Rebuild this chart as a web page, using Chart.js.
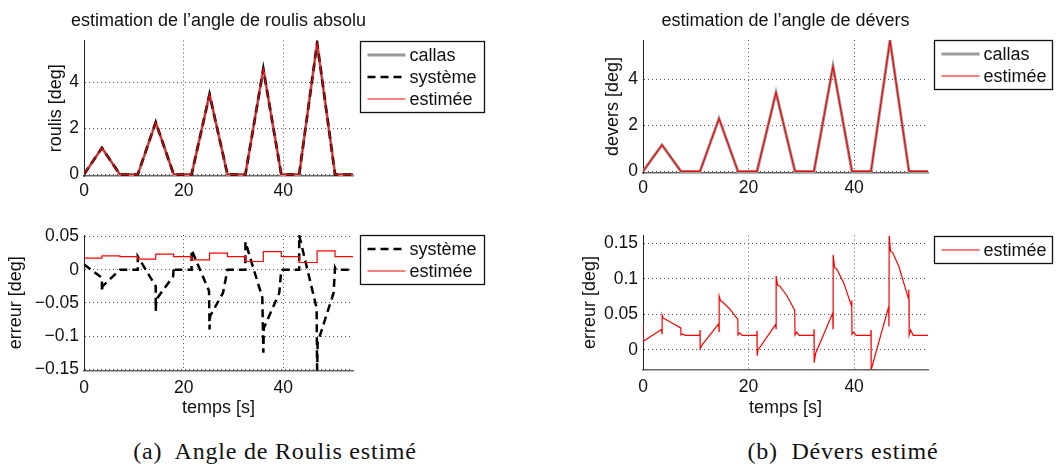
<!DOCTYPE html>
<html>
<head>
<meta charset="utf-8">
<script src="https://cdn.jsdelivr.net/npm/chart.js@4.4.1/dist/chart.umd.min.js"></script>
<style>
  body { margin: 0; background: #fff; width: 1061px; height: 468px; position: relative; overflow: hidden; }
  canvas { position: absolute; }
  .caption { position: absolute; top: 436px; width: 400px; text-align: center; font: 24px "Liberation Serif", serif; letter-spacing: 0.8px; color: #111; line-height: 30px; }
</style>
</head>
<body>
<canvas id="roulisChart" width="530" height="215" style="left:0;top:0"></canvas>
<canvas id="deversChart" width="531" height="215" style="left:530px;top:0"></canvas>
<canvas id="roulisErrChart" width="530" height="205" style="left:0;top:215px"></canvas>
<canvas id="deversErrChart" width="531" height="205" style="left:530px;top:215px"></canvas>
<div class="caption" style="left:75px">(a)&nbsp; Angle de Roulis estimé</div>
<div class="caption" style="left:643px">(b)&nbsp; Dévers estimé</div>
<script>
// temps des sommets / retours à zéro des profils triangulaires [s]
const cycleTimes = [0, 3.6, 7.2, 10.8, 14.4, 18, 21.6, 25.2, 28.8, 32.4, 36, 39.6, 43.2, 46.8, 50.4, 54];
const roulisCallas  = [0, 1.15, 0, 0, 2.26, 0, 0, 3.47, 0, 0, 4.57, 0, 0, 5.69, 0, 0];
const roulisSysteme = [0, 1.15, 0, 0, 2.26, 0, 0, 3.47, 0, 0, 4.57, 0, 0, 5.69, 0, 0];
const roulisEstimee = [0, 1.15, 0, 0, 2.26, 0, 0, 3.47, 0, 0, 4.57, 0, 0, 5.69, 0, 0];
const deversCallas  = [0, 1.15, 0, 0, 2.3, 0, 0, 3.43, 0, 0, 4.57, 0, 0, 5.7, 0, 0];
const deversEstimee = [0, 1.15, 0, 0, 2.3, 0, 0, 3.43, 0, 0, 4.57, 0, 0, 5.7, 0, 0];

// erreur roulis - système
const errSystemeT = [0, 3.6, 3.6, 3.7, 7.2, 10.8, 10.8, 14.4, 14.4, 14.5, 17.9, 18.0, 18.2, 21.6, 21.6, 25.1, 25.2, 25.3, 27.9, 28.8,
                     32.4, 32.4, 35.8, 36.0, 36.1, 39.2, 39.6, 43.2, 43.2, 46.7, 46.8, 46.9, 50.1, 50.4, 50.6, 54];
const errSystemeV = [0.008, -0.012, -0.033, -0.025, 0, 0, 0.02, -0.025, -0.062, -0.045, -0.01, 0.004, 0, 0, 0.03, -0.032, -0.09, -0.07, -0.035, 0,
                     0, 0.042, -0.042, -0.125, -0.088, -0.035, 0, 0, 0.052, -0.058, -0.16, -0.11, -0.035, 0.003, 0, 0];

// erreur roulis - estimée (paliers)
const errRoulisEstT = [0, 3.6, 7.2, 10.8, 14.4, 18, 21.6, 25.2, 28.8, 32.4, 36, 39.6, 43.2, 46.8, 50.4, 54];
const errRoulisEstV = [0.0175, 0.021, 0.02, 0.016, 0.0235, 0.02, 0.015, 0.025, 0.02, 0.0125, 0.0275, 0.02, 0.011, 0.0285, 0.02, 0.02];

// erreur dévers - estimée
const errDeversT = [0, 0.02, 3.55, 3.6, 3.63, 3.8, 7.15, 7.2, 7.5, 8.0, 10.78,
                    10.8, 10.83, 11.1, 14.35, 14.4, 14.43, 14.7, 15.0, 16.4, 17.95, 18.0, 18.3, 18.8, 21.58,
                    21.6, 21.63, 21.8, 25.15, 25.2, 25.23, 25.5, 25.9, 27.2, 28.75, 28.8, 29.1, 29.6, 32.38,
                    32.4, 32.43, 32.7, 35.95, 36.0, 36.03, 36.3, 36.7, 38.0, 39.5, 39.55, 39.6, 39.9, 40.4, 43.18,
                    43.2, 43.23, 43.6, 46.55, 46.6, 46.65, 46.9, 47.3, 48.5, 50.3, 50.35, 50.4, 50.43, 50.7, 51.2, 54];
const errDeversV = [0.038, 0.012, 0.029, 0.023, 0.049, 0.045, 0.031, 0.021, 0.0225, 0.0205, 0.0205,
                    0.028, 0.002, 0.006, 0.037, 0.026, 0.076, 0.069, 0.068, 0.058, 0.043, 0.021, 0.024, 0.0205, 0.0205,
                    0.027, -0.008, 0.0, 0.036, 0.03, 0.104, 0.091, 0.09, 0.077, 0.056, 0.021, 0.025, 0.0205, 0.0205,
                    0.029, -0.018, -0.005, 0.052, 0.03, 0.134, 0.116, 0.114, 0.095, 0.062, 0.07, 0.022, 0.025, 0.0205, 0.0205,
                    0.028, -0.028, -0.018, 0.061, 0.033, 0.161, 0.139, 0.137, 0.117, 0.072, 0.085, 0.07, 0.021, 0.028, 0.0205, 0.0205];

const timeTicks = [0, 20, 40];
const angleTicks = [0, 2, 4];
const errRoulisTicks = [0.05, 0, -0.05, -0.1, -0.15];
const errDeversTicks = [0, 0.05, 0.1, 0.15];

const FONT = '"Liberation Sans", Arial, sans-serif';
const labelFont = { family: FONT, size: 18 };
const tickFont = { family: FONT, size: 17.5 };

const toXY = (ts, vs) => ts.map((t, i) => ({ x: t, y: vs[i] }));
const fmt = v => String(v).replace('-', '\u2212');

// titre centré sur la zone de tracé, sans compression de la largeur
const plotTitle = {
    id: 'plotTitle',
    afterDraw(chart, args, opts) {
        if (!opts.text) return;
        const { ctx, chartArea } = chart;
        ctx.save();
        ctx.font = '18px ' + FONT;
        ctx.fillStyle = '#111';
        ctx.textAlign = 'center';
        ctx.textBaseline = 'middle';
        ctx.fillText(opts.text, (chartArea.left + chartArea.right) / 2, opts.y);
        ctx.restore();
    }
};

// légende encadrée façon Matlab
const legendBox = {
    id: 'legendBox',
    afterDraw(chart, args, opts) {
        const { ctx, chartArea } = chart;
        const sets = chart.data.datasets;
        const x = Math.round(chartArea.right + opts.gap) + 0.5;
        const y = Math.round(chartArea.top) + 0.5;
        const h = sets.length * 22 + 5;
        ctx.save();
        ctx.strokeStyle = '#111';
        ctx.lineWidth = 1.3;
        ctx.strokeRect(x, y, opts.width, h);
        ctx.font = '18px ' + FONT;
        ctx.textBaseline = 'middle';
        ctx.fillStyle = '#111';
        sets.forEach((ds, i) => {
            const cy = y + 13.5 + i * 22;
            ctx.beginPath();
            ctx.setLineDash(ds.borderDash || []);
            ctx.strokeStyle = ds.borderColor;
            ctx.lineWidth = ds.borderWidth;
            ctx.moveTo(x + 7, cy);
            ctx.lineTo(x + 45, cy);
            ctx.stroke();
            ctx.setLineDash([]);
            ctx.fillText(ds.label, x + 49, cy + 1);
        });
        ctx.restore();
    }
};

function axisX(withTitle, height, tickPad) {
    return {
        type: 'linear', min: 0, max: 54,
        afterBuildTicks: s => { s.ticks = timeTicks.map(v => ({ value: v })); },
        afterFit: s => { s.height = height; },
        ticks: { font: tickFont, color: '#111', padding: tickPad, maxRotation: 0, callback: v => fmt(v) },
        grid: { color: '#555', drawTicks: false, lineWidth: 1 },
        border: { color: '#666', width: 1.5, dash: [1, 3] },
        title: { display: withTitle, text: 'temps [s]', font: labelFont, color: '#111', padding: { top: 0, bottom: 1 } }
    };
}

function axisY(min, max, ticks, title, width, titlePad) {
    return {
        min: min, max: max,
        afterBuildTicks: s => { s.ticks = ticks.map(v => ({ value: v })); },
        afterFit: s => { s.width = width; },
        ticks: { font: tickFont, color: '#111', padding: 5, callback: v => fmt(v) },
        grid: { color: '#555', drawTicks: false, lineWidth: 1 },
        border: { color: '#222', width: 1, dash: [1, 3] },
        title: { display: true, text: title, font: labelFont, color: '#111', padding: { top: titlePad, bottom: 0 } }
    };
}

function makeChart(id, cfg) {
    return new Chart(document.getElementById(id), {
        type: 'line',
        data: { datasets: cfg.datasets },
        options: {
            responsive: false,
            animation: false,
            events: [],
            layout: { padding: cfg.padding },
            elements: { point: { radius: 0 }, line: { tension: 0 } },
            plugins: {
                legend: { display: false },
                tooltip: { enabled: false },
                title: { display: false },
                plotTitle: { text: cfg.title || '', y: 21 },
                legendBox: cfg.legend
            },
            scales: { x: cfg.x, y: cfg.y }
        },
        plugins: [plotTitle, legendBox]
    });
}

const callasStyle = { borderColor: '#9a9a9a', borderWidth: 3 };
const systemeStyle = { borderColor: '#000000', borderWidth: 2.5, borderDash: [8, 5] };
const estimeeStyle = { borderColor: '#ff0000', borderWidth: 1.2 };

makeChart('roulisChart', {
    title: 'estimation de l\u2019angle de roulis absolu',
    padding: { left: 0, right: 177, top: 40.6, bottom: 0 },
    datasets: [
        { label: 'callas', data: toXY(cycleTimes, roulisCallas), order: 3, ...callasStyle },
        { label: 'système', data: toXY(cycleTimes, roulisSysteme), order: 2, ...systemeStyle },
        { label: 'estimée', data: toXY(cycleTimes, roulisEstimee), order: 1, ...estimeeStyle }
    ],
    legend: { gap: 7, width: 124 },
    x: axisX(false, 39, 5),
    y: axisY(-0.07, 5.8, angleTicks, 'roulis [deg]', 84, 45)
});

makeChart('deversChart', {
    title: 'estimation de l\u2019angle de dévers',
    padding: { left: 0, right: 133, top: 40, bottom: 0 },
    datasets: [
        { label: 'callas', data: toXY(cycleTimes, deversCallas), order: 2, ...callasStyle },
        { label: 'estimée', data: toXY(cycleTimes, deversEstimee), order: 1, ...estimeeStyle }
    ],
    legend: { gap: 6, width: 118 },
    x: axisX(false, 42, 5),
    y: axisY(-0.07, 5.72, angleTicks, 'devers [deg]', 113, 72)
});

makeChart('roulisErrChart', {
    padding: { left: 0, right: 177, top: 20, bottom: 0 },
    datasets: [
        { label: 'système', data: toXY(errSystemeT, errSystemeV), order: 2, ...systemeStyle },
        { label: 'estimée', data: toXY(errRoulisEstT, errRoulisEstV), order: 1, stepped: true, ...estimeeStyle }
    ],
    legend: { gap: 7, width: 124 },
    x: axisX(true, 49.5, 7),
    y: axisY(-0.152, 0.0525, errRoulisTicks, 'erreur [deg]', 84, 5)
});

makeChart('deversErrChart', {
    padding: { left: 0, right: 133, top: 20.5, bottom: 0 },
    datasets: [
        { label: 'estimée', data: toXY(errDeversT, errDeversV), ...estimeeStyle }
    ],
    legend: { gap: 6, width: 118 },
    x: axisX(true, 50.5, 7),
    y: axisY(-0.0275, 0.161, errDeversTicks, 'erreur [deg]', 113, 49)
});
</script>
</body>
</html>
